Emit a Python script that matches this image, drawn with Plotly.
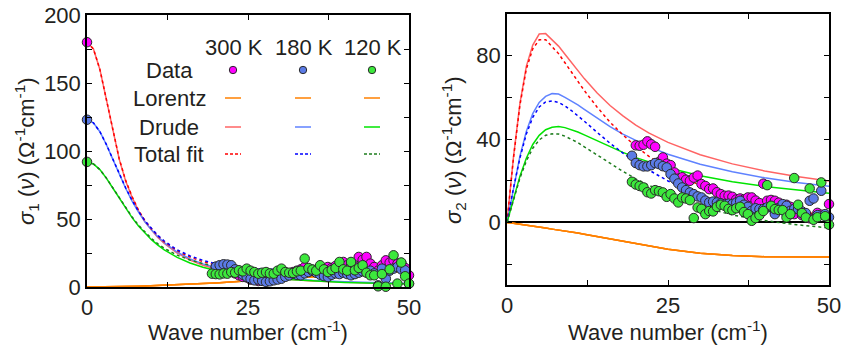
import plotly.graph_objects as go

W, H = 843, 346

# ---------------- data ----------------
nu_fit = [0, 1, 2, 3, 4, 5, 6, 7, 8, 9, 10, 11, 12, 14, 16, 18, 20, 22, 25, 30, 35, 40, 45, 50]

lorentz_s1 = [0, 0.01, 0.04, 0.1, 0.15, 0.25, 0.35, 0.45, 0.55, 0.7, 0.85, 1.0, 1.2, 1.6, 2.2, 2.6, 3.0, 3.5, 4.4, 6.0, 7.5, 9.0, 10.5, 11.8]
lorentz_s2 = [0, -0.4, -0.9, -1.3, -1.8, -2.2, -2.7, -3.2, -3.6, -4.1, -4.6, -5.1, -5.7, -6.8, -8.0, -9.1, -10.2, -11.2, -12.8, -14.8, -15.9, -16.4, -16.6, -16.6]

drude_s1_300 = [180, 175, 160, 138, 114, 94, 78, 66, 56, 48, 42, 36.5, 32, 25, 19.8, 16, 13.2, 11, 8.7, 6.1, 4.5, 3.5, 2.8, 2.3]
drude_s1_180 = [123, 120.7, 114.2, 104.8, 94, 83, 72.6, 63.2, 55, 48, 42, 36.9, 32.6, 25.7, 20.7, 17, 14.1, 11.9, 9.4, 6.7, 5, 3.9, 3.1, 2.5]
drude_s1_120 = [92, 90.5, 86.3, 80.1, 72.8, 65.2, 57.8, 51, 44.8, 39.5, 34.8, 30.8, 27.3, 21.8, 17.7, 14.5, 12.1, 10.3, 8.2, 5.8, 4.4, 3.4, 2.7, 2.2]

total_s1_300 = [180, 175, 160, 138.1, 114.2, 94.3, 78.4, 66.5, 56.6, 48.7, 42.9, 37.5, 33.2, 26.6, 22, 18.6, 16.2, 14.5, 13.1, 12.1, 12, 12.5, 13.3, 14.1]
total_s1_180 = [123, 120.7, 114.2, 104.9, 94.2, 83.3, 73, 63.7, 55.6, 48.7, 42.9, 37.9, 33.8, 27.3, 22.9, 19.6, 17.1, 15.4, 13.8, 12.7, 12.5, 12.9, 13.6, 14.3]
total_s1_120 = [92, 90.5, 86.3, 80.2, 73, 65.5, 58.2, 51.5, 45.4, 40.2, 35.7, 31.8, 28.5, 23.4, 19.9, 17.1, 15.1, 13.8, 12.6, 11.8, 11.9, 12.4, 13.2, 14]

drude_s2_300 = [0, 31.2, 57.0, 74.9, 85.1, 90.4, 90.6, 87.8, 84.6, 80.7, 76.7, 72.8, 69.0, 62.1, 56.1, 51.1, 46.7, 43.0, 38.4, 32.5, 28.1, 24.7, 22.0, 19.9]
drude_s2_180 = [0, 16.8, 31.7, 43.7, 52.2, 57.6, 60.5, 61.8, 61.6, 60.0, 58.3, 56.4, 54.3, 50.0, 46.0, 42.4, 39.2, 36.4, 32.7, 27.9, 24.3, 21.4, 19.2, 17.4]
drude_s2_120 = [0, 11.6, 22.1, 30.8, 37.4, 41.8, 44.5, 45.7, 46.0, 45.5, 44.6, 43.4, 42.0, 39.1, 36.2, 33.6, 31.1, 29.0, 26.2, 22.4, 19.5, 17.3, 15.5, 14.0]

total_s2_300 = [0, 30.8, 56.1, 73.6, 83.3, 87.6, 87.7, 84.6, 81.0, 76.6, 72.1, 67.7, 63.3, 55.3, 48.1, 42.0, 36.5, 31.8, 25.6, 17.7, 12.2, 8.3, 5.4, 3.3]
total_s2_180 = [0, 16.4, 30.8, 42.4, 50.4, 55.4, 57.8, 58.3, 57.6, 55.9, 53.7, 51.3, 48.6, 43.2, 38.0, 33.3, 29.0, 25.2, 19.9, 13.1, 8.4, 5.0, 2.6, 0.8]
total_s2_120 = [0, 11.2, 21.2, 29.5, 35.6, 39.6, 41.8, 42.5, 42.4, 41.4, 40.0, 38.3, 36.3, 32.3, 28.2, 24.5, 20.9, 17.8, 13.4, 7.6, 3.6, 0.9, -1.1, -2.6]

# measured data
nu_data = [19.4, 20.0, 20.6, 21.2, 21.8, 22.4, 23.0, 23.6, 24.2, 24.8, 25.4, 26.0, 26.6, 27.2,
           27.8, 28.4, 29.0, 29.6, 30.2, 30.8, 31.4, 32.0, 32.6, 33.2, 33.8, 34.4, 35.0, 35.6,
           36.2, 36.8, 37.4, 38.0, 38.6, 39.2, 39.8, 40.4, 41.0, 41.6, 42.2, 42.8, 43.4, 44.0,
           44.6, 45.2, 45.8, 46.4, 47.0, 47.6, 48.2, 48.8, 49.4, 50.0]

dc_s1 = [180, 123, 92]  # values at zero frequency (300 K, 180 K, 120 K)

data_s1_300 = [None, 14.7, 13.5, 14.0, 12.3, 12.0, 10.0, 8.6, 7.4, 7.0, 5.4, 6.0, 4.4, 5.0, 6.1, 7.5, 8.6, 9.0,
               9.8, 8.5, 9.8, 11.0, 12.0, 13.0, 14.7, 13.5, 12.8, 12.0, 12.8, 13.5, 14.7, 14.0, 15.5, 16.0,
               18.4, 16.0, 17.2, 15.0, 22.1, 20.0, 22.1, 17.2, 14.7, 12.0, 16.0, 19.6, 18.0, 19.6, 17.0,
               17.7, 14.0, 8.6]
data_s1_180 = [None, 15.0, 16.0, 16.7, 16.5, 16.0, 13.0, 11.0, 9.0, 7.5, 6.0, 4.9, 5.5, 4.5, 3.7, 4.2, 4.9,
               5.5, 6.1, 7.5, 8.5, 9.8, 9.0, 8.6, 10.0, 11.0, 11.8, 10.5, 9.0, 8.0, 7.4, 9.0, 10.0, 9.5,
               10.5, 9.5, 8.6, 9.5, 10.5, 11.5, 11.0, 12.0, 10.0, 1.2, 13.5, 6.1, 12.0, 13.5, 14.7, 13.0,
               12.3, 2.5]
data_s1_120 = [9.8, 9.5, 9.3, 10.0, 9.8, 11.0, 10.5, 12.3, 11.5, 13.5, 12.0, 11.0, 9.8, 10.5, 11.0, 10.0,
               9.8, 12.0, 13.5, 11.0, 10.5, 10.3, 11.5, 12.0, 20.9, 14.0, 12.8, 12.0, 16.0, 13.0, 11.0,
               12.5, 14.0, 18.4, 13.0, 12.0, 18.4, 12.3, 14.0, 16.0, 10.5, 8.6, 8.6, 0.5, 9.5, 0.2, 13.0,
               23.3, 2.5, 18.0, 7.9, 2.5]

data_s2_300 = [None, 37.0, 36.8, 37.3, 38.9, 37.5, 36.3, 29.0, 31.2, 28.2, 27.5, 24.0, 21.0, 21.7, 20.5,
               20.0, 21.5, 22.5, 18.4, 17.5, 16.0, 16.3, 14.5, 13.6, 12.8, 12.9, 12.3, 11.0, 11.5, 11.0,
               12.0, 12.0, 10.5, 9.3, 18.6, 10.4, 10.8, 10.4, 9.5, 8.0, 8.5, 7.5, 4.0, 7.7, 3.5, 2.7, 2.0,
               1.6, 4.6, 3.7, 3.5, 8.8]
data_s2_180 = [32.0, 28.5, 27.5, 26.9, 26.9, 27.5, 28.5, 28.0, 27.0, 26.4, 23.2, 21.0, 18.7, 16.8, 15.5,
               14.4, 13.6, 12.5, 12.0, 10.5, 9.6, 10.0, 9.6, 9.2, 8.8, 9.0, 8.8, 9.5, 10.4, 8.5, 7.5, 5.6,
               6.8, 6.4, 6.4, 7.2, 7.5, 4.0, 7.0, 8.8, 8.0, 5.6, 6.5, 6.4, 5.3, 4.5, 10.4, 11.5, 3.5, 15.2,
               4.0, 2.5]
data_s2_120 = [19.5, 18.2, 17.5, 16.8, 14.5, 13.9, 15.5, 15.0, 14.4, 12.3, 13.6, 11.5, 9.6, 12.0, 11.5,
               10.7, 2.1, 7.2, 6.5, 4.0, 5.5, 5.3, 7.5, 8.5, 8.0, 6.5, 5.9, 6.8, 7.5, 5.0, 4.0, 0.8, 2.1,
               3.5, 5.5, 17.9, 8.0, 6.4, 6.0, 5.9, 2.4, 4.0, 21.3, 8.5, 4.5, 2.4, 16.3, 1.3, 2.5, 19.2,
               3.0, -1.1]

temps = ["300 K", "180 K", "120 K"]
legend_rows = ["Data", "Lorentz", "Drude", "Total fit"]

x_ticks = [0, 25, 50]
y1_ticks = [0, 50, 100, 150, 200]
y2_ticks = [0, 40, 80]

# ---------------- styles ----------------
FONT = "Liberation Sans, Arial, sans-serif"
FS = 22
TXT = "#231f20"
C_DATA = ["#ff00ff", "#5b7be6", "#3ce83c"]
C_DRUDE = ["#ff6464", "#5f82ff", "#00e400"]
C_TOTAL = ["#ff0000", "#0000ff", "#1e7d1e"]
C_LOR = "#ff8000"
DASH = "3px,3px"

fig = go.Figure()

def add_panel(xa, ya, lor, drudes, totals):
    for i in range(3):
        fig.add_trace(go.Scatter(x=nu_fit, y=lor, mode="lines", xaxis=xa, yaxis=ya,
                                 line=dict(color=C_LOR, width=1.5), showlegend=False))
    for i in range(3):
        fig.add_trace(go.Scatter(x=nu_fit, y=drudes[i], mode="lines", xaxis=xa, yaxis=ya,
                                 line=dict(color=C_DRUDE[i], width=1.5), showlegend=False))
    for i in range(3):
        fig.add_trace(go.Scatter(x=nu_fit, y=totals[i], mode="lines", xaxis=xa, yaxis=ya,
                                 line=dict(color=C_TOTAL[i], width=1.5, dash=DASH), showlegend=False))

add_panel("x", "y", lorentz_s1, [drude_s1_300, drude_s1_180, drude_s1_120],
          [total_s1_300, total_s1_180, total_s1_120])
add_panel("x2", "y2", lorentz_s2, [drude_s2_300, drude_s2_180, drude_s2_120],
          [total_s2_300, total_s2_180, total_s2_120])

mk = lambda c, s: dict(color=c, size=s, line=dict(color="#2a2a2a", width=1))

s1_sets = [data_s1_300, data_s1_180, data_s1_120]
s2_sets = [data_s2_300, data_s2_180, data_s2_120]
for i in range(3):
    fig.add_trace(go.Scatter(x=[0] + nu_data, y=[dc_s1[i]] + s1_sets[i], mode="markers",
                             xaxis="x", yaxis="y", marker=mk(C_DATA[i], 9.5),
                             cliponaxis=False, showlegend=False))
for i in range(3):
    fig.add_trace(go.Scatter(x=nu_data, y=s2_sets[i], mode="markers",
                             xaxis="x2", yaxis="y2", marker=mk(C_DATA[i], 9.5),
                             cliponaxis=False, showlegend=False))

# ---------------- axes ----------------
px = lambda x: x / W
py = lambda y: 1 - y / H

def axis(minor_step, **kw):
    d = dict(showline=True, linecolor="black", linewidth=1.5, mirror="ticks",
             ticks="inside", ticklen=5, tickwidth=1.3, tickcolor="black",
             showgrid=False, zeroline=False, automargin=False,
             tickfont=dict(family=FONT, size=FS, color=TXT),
             minor=dict(ticks="inside", ticklen=5, tickwidth=1.3, tickcolor="black",
                        dtick=minor_step, tick0=0, showgrid=False))
    d.update(kw)
    return d

fig.update_layout(
    width=W, height=H, margin=dict(l=0, r=0, t=0, b=0, pad=0, autoexpand=False),
    paper_bgcolor="white", plot_bgcolor="white", showlegend=False,
    xaxis=axis(12.5, domain=[px(87), px(409)], range=[0, 50], anchor="y", tickvals=x_ticks),
    yaxis=axis(25, domain=[py(287), py(15)], range=[0, 200], anchor="x", tickvals=y1_ticks),
    xaxis2=axis(12.5, domain=[px(507), px(829)], range=[0, 50], anchor="y2", tickvals=x_ticks),
    yaxis2=axis(20, domain=[py(285), py(14)], range=[-30, 100], anchor="x2", tickvals=y2_ticks,
                zeroline=True, zerolinecolor="black", zerolinewidth=1.5),
)

ann = []
tfont = dict(family=FONT, size=FS, color=TXT)
# axis titles
ann.append(dict(x=px(248), y=py(331), xref="paper", yref="paper", showarrow=False,
                text="Wave number (cm<sup>-1</sup>)", font=tfont, xanchor="center", yanchor="middle"))
ann.append(dict(x=px(668), y=py(331), xref="paper", yref="paper", showarrow=False,
                text="Wave number (cm<sup>-1</sup>)", font=tfont, xanchor="center", yanchor="middle"))
ann.append(dict(x=px(26), y=py(151), xref="paper", yref="paper", showarrow=False, textangle=-90,
                text="<i>σ</i><sub>1</sub> (<i>ν</i>) (Ω<sup>-1</sup>cm<sup>-1</sup>)", font=tfont,
                xanchor="center", yanchor="middle"))
ann.append(dict(x=px(454), y=py(150), xref="paper", yref="paper", showarrow=False, textangle=-90,
                text="<i>σ</i><sub>2</sub> (<i>ν</i>) (Ω<sup>-1</sup>cm<sup>-1</sup>)", font=tfont,
                xanchor="center", yanchor="middle"))

# manual legend table
col_x = [234, 304, 373]
row_y = [70, 98, 127, 154]
for j, t in enumerate(temps):
    ann.append(dict(x=px(col_x[j]), y=py(48), xref="paper", yref="paper", showarrow=False,
                    text=t, font=tfont, xanchor="center", yanchor="middle"))
for r, lab in enumerate(legend_rows):
    ann.append(dict(x=px(169), y=py(row_y[r]), xref="paper", yref="paper", showarrow=False,
                    text=lab, font=tfont, xanchor="center", yanchor="middle"))

shapes = []
for j in range(3):
    cx = col_x[j] - 1
    shapes.append(dict(type="circle", xref="paper", yref="paper",
                       x0=px(cx - 3.7), x1=px(cx + 3.7), y0=py(row_y[0] + 3.7), y1=py(row_y[0] - 3.7),
                       fillcolor=C_DATA[j], line=dict(color="#2a2a2a", width=1)))
    seg = [(row_y[1], C_LOR, "solid"), (row_y[2], C_DRUDE[j], "solid"), (row_y[3], C_TOTAL[j], "3px,2px")]
    for yy, col, dsh in seg:
        shapes.append(dict(type="line", xref="paper", yref="paper",
                           x0=px(cx - 8), x1=px(cx + 8), y0=py(yy), y1=py(yy),
                           line=dict(color=col, width=1.5, dash=dsh)))

fig.update_layout(annotations=ann, shapes=shapes)
fig.write_html("out.html")
